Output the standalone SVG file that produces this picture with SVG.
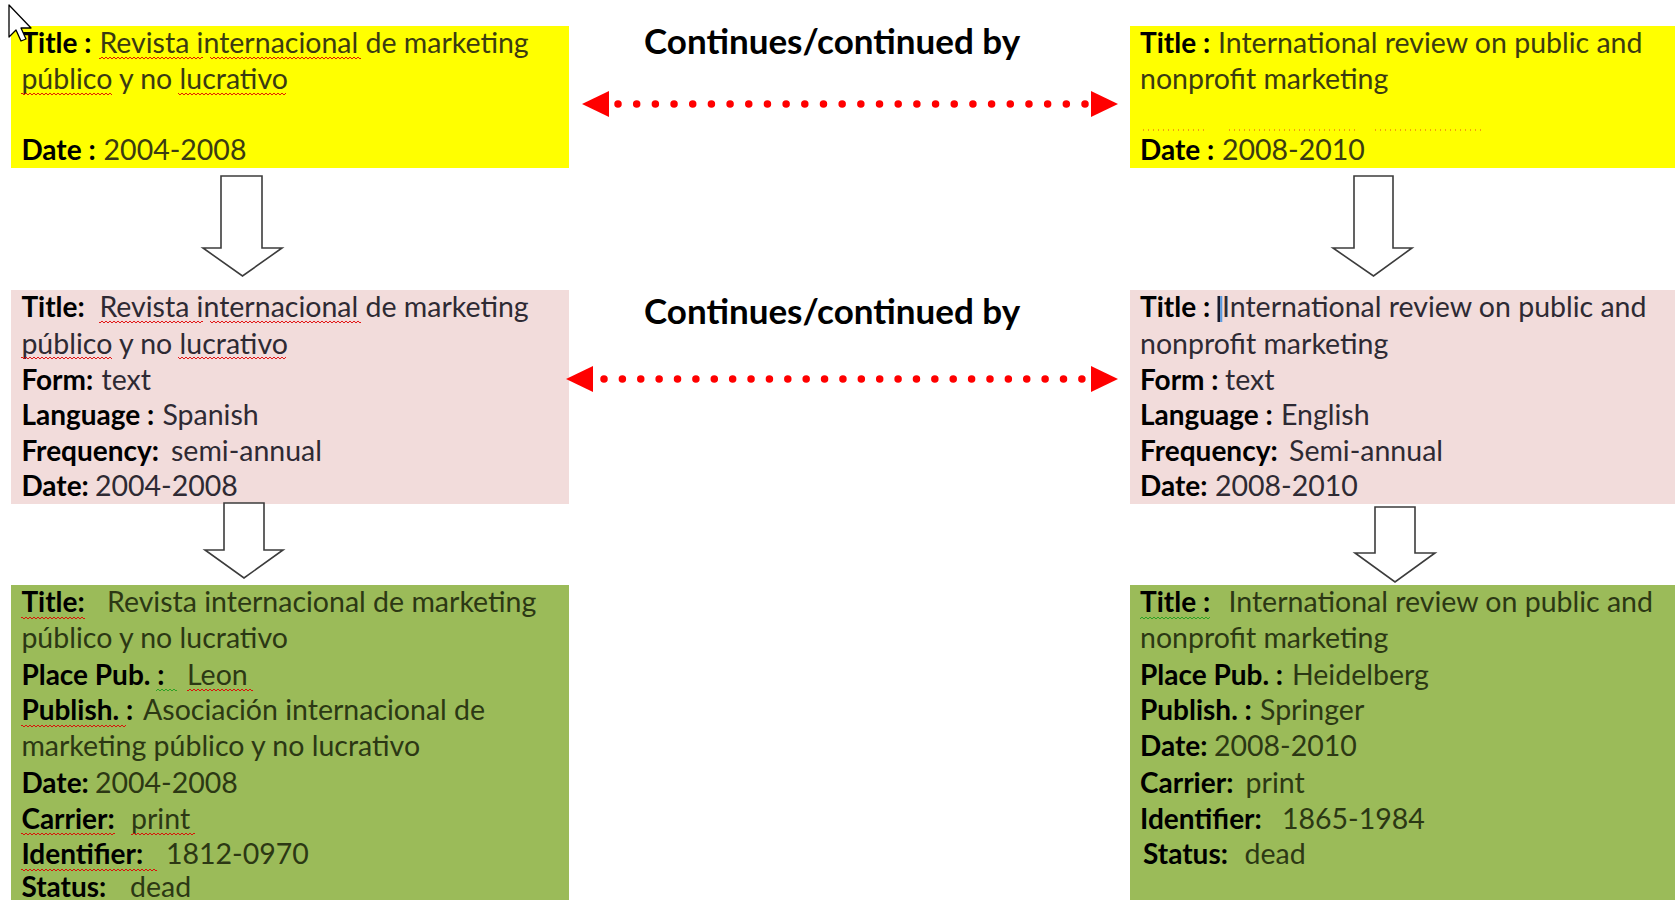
<svg xmlns="http://www.w3.org/2000/svg" width="1675" height="900" viewBox="0 0 1675 900">
<defs>
<style>
text{font-family:Lato,"Noto Sans","Liberation Sans",sans-serif;font-size:28.5px;fill:#111;}
.b{font-weight:bold;fill:#000;font-size:28px;}
.vy{fill:#3b3b12;}
.vp{fill:#2e2a33;}
.vg{fill:#2c3814;}
.head{font-size:35px;font-weight:bold;fill:#000;}
.yellow{fill:#FFFF00;}
.pink{fill:#F2DCDB;}
.green{fill:#9BBB59;}
.blk{fill:#fff;stroke:#3c3c3c;stroke-width:1.6;stroke-linejoin:miter;}
.dots{stroke:#FF0000;stroke-width:7.5;stroke-linecap:round;fill:none;}
.tri{fill:#FF0000;}
.sqr{fill:url(#sqr);}
.sqg{fill:url(#sqg);}
</style>
<pattern id="sqr" x="0" y="0" width="4" height="4" patternUnits="userSpaceOnUse">
<path d="M0 3 L2 1 L4 3" fill="none" stroke="#E00000" stroke-width="0.9"/>
</pattern>
<pattern id="sqg" x="0" y="0" width="4" height="4" patternUnits="userSpaceOnUse">
<path d="M0 3 L2 1 L4 3" fill="none" stroke="#1E9E1E" stroke-width="0.9"/>
</pattern>
</defs>
<rect width="1675" height="900" fill="#fff"/>

<g id="node-yellow-left">
<rect class="yellow" x="11" y="26" width="558" height="142"/>
<text y="53"><tspan class="b" x="21.4">Title :</tspan><tspan class="vy" x="99.4">Revista internacional de marketing</tspan></text>
<text class="vy" x="21.4" y="89">público y no lucrativo</text>
<text y="160"><tspan class="b" x="21.4">Date :</tspan><tspan class="vy" x="103.6">2004-2008</tspan></text>
<rect class="sqr" x="99" y="56" width="104" height="4"/>
<rect class="sqr" x="210" y="56" width="151" height="4"/>
<rect class="sqr" x="21" y="92" width="91" height="4"/>
<rect class="sqr" x="178" y="92" width="108" height="4"/>
</g>

<g id="node-yellow-right">
<rect class="yellow" x="1130" y="26" width="545" height="142"/>
<text y="53"><tspan class="b" x="1140">Title :</tspan><tspan class="vy" x="1218">International review on public and</tspan></text>
<text class="vy" x="1140" y="89">nonprofit marketing</text>
<line x1="1143" y1="130" x2="1205" y2="130" stroke="#E04020" stroke-width="1" stroke-dasharray="1 4"/>
<line x1="1229" y1="130" x2="1357" y2="130" stroke="#E04020" stroke-width="1" stroke-dasharray="1 4"/>
<line x1="1375" y1="130" x2="1483" y2="130" stroke="#E04020" stroke-width="1" stroke-dasharray="1 4"/>
<text y="160"><tspan class="b" x="1140">Date :</tspan><tspan class="vy" x="1222">2008-2010</tspan></text>
</g>

<g id="node-pink-left">
<rect class="pink" x="11" y="290" width="558" height="214"/>
<text y="317"><tspan class="b" x="21.4">Title:</tspan><tspan class="vp" x="99.4">Revista internacional de marketing</tspan></text>
<text class="vp" x="21.4" y="354">público y no lucrativo</text>
<text y="390"><tspan class="b" x="21.4">Form:</tspan><tspan class="vp" x="101.5">text</tspan></text>
<text y="425"><tspan class="b" x="21.4">Language :</tspan><tspan class="vp" x="162.4">Spanish</tspan></text>
<text y="461"><tspan class="b" x="21.4">Frequency:</tspan><tspan class="vp" x="171">semi-annual</tspan></text>
<text y="496"><tspan class="b" x="21.4">Date:</tspan><tspan class="vp" x="95">2004-2008</tspan></text>
<rect class="sqr" x="99" y="320" width="104" height="4"/>
<rect class="sqr" x="210" y="320" width="151" height="4"/>
<rect class="sqr" x="21" y="357" width="91" height="4"/>
<rect class="sqr" x="178" y="357" width="108" height="4"/>
</g>

<g id="node-pink-right">
<rect class="pink" x="1130" y="290" width="545" height="214"/>
<text y="317"><tspan class="b" x="1140">Title :</tspan><tspan class="vp" x="1222">International review on public and</tspan></text>
<rect x="1217.5" y="296" width="2.6" height="26" fill="#1a1a2a"/>
<rect x="1220.1" y="296" width="2.2" height="26" fill="#5B9BE0"/>
<text class="vp" x="1140" y="354">nonprofit marketing</text>
<text y="390"><tspan class="b" x="1140">Form :</tspan><tspan class="vp" x="1225">text</tspan></text>
<text y="425"><tspan class="b" x="1140">Language :</tspan><tspan class="vp" x="1281">English</tspan></text>
<text y="461"><tspan class="b" x="1140">Frequency:</tspan><tspan class="vp" x="1289">Semi-annual</tspan></text>
<text y="496"><tspan class="b" x="1140">Date:</tspan><tspan class="vp" x="1215">2008-2010</tspan></text>
</g>

<g id="node-green-left">
<rect class="green" x="11" y="585" width="558" height="315"/>
<text y="612"><tspan class="b" x="21.4">Title:</tspan><tspan class="vg" x="107">Revista internacional de marketing</tspan></text>
<text class="vg" x="21.4" y="648">público y no lucrativo</text>
<text y="685"><tspan class="b" x="21.4">Place Pub. :</tspan><tspan class="vg" x="187">Leon</tspan></text>
<text y="720"><tspan class="b" x="21.4">Publish. :</tspan><tspan class="vg" x="143">Asociación internacional de</tspan></text>
<text class="vg" x="21.4" y="756">marketing público y no lucrativo</text>
<text y="793"><tspan class="b" x="21.4">Date:</tspan><tspan class="vg" x="95">2004-2008</tspan></text>
<text y="829"><tspan class="b" x="21.4">Carrier:</tspan><tspan class="vg" x="131">print</tspan></text>
<text y="864"><tspan class="b" x="21.4">Identifier:</tspan><tspan class="vg" x="166">1812-0970</tspan></text>
<text y="897"><tspan class="b" x="21.4">Status:</tspan><tspan class="vg" x="130">dead</tspan></text>
<rect class="sqr" x="21" y="615" width="64" height="4"/>
<rect class="sqg" x="156" y="688" width="21" height="4"/>
<rect class="sqr" x="187" y="688" width="66" height="4"/>
<rect class="sqr" x="21" y="723" width="105" height="4"/>
<rect class="sqr" x="21" y="832" width="94" height="4"/>
<rect class="sqr" x="131" y="832" width="64" height="4"/>
<rect class="sqr" x="21" y="867" width="136" height="4"/>
</g>

<g id="node-green-right">
<rect class="green" x="1130" y="585" width="545" height="315"/>
<text y="612"><tspan class="b" x="1140">Title :</tspan><tspan class="vg" x="1228.5">International review on public and</tspan></text>
<text class="vg" x="1140" y="648">nonprofit marketing</text>
<text y="685"><tspan class="b" x="1140">Place Pub. :</tspan><tspan class="vg" x="1292">Heidelberg</tspan></text>
<text y="720"><tspan class="b" x="1140">Publish. :</tspan><tspan class="vg" x="1260">Springer</tspan></text>
<text y="756"><tspan class="b" x="1140">Date:</tspan><tspan class="vg" x="1214">2008-2010</tspan></text>
<text y="793"><tspan class="b" x="1140">Carrier:</tspan><tspan class="vg" x="1245.6">print</tspan></text>
<text y="829"><tspan class="b" x="1140">Identifier:</tspan><tspan class="vg" x="1282">1865-1984</tspan></text>
<text y="864"><tspan class="b" x="1143">Status:</tspan><tspan class="vg" x="1244.6">dead</tspan></text>
<rect class="sqg" x="1140" y="615" width="70" height="4"/>
</g>

<g id="labels">
<text class="head" x="644" y="54">Continues/continued by</text>
<text class="head" x="644" y="324">Continues/continued by</text>
</g>

<g id="connectors">
<path class="blk" d="M221 176 H262 V248 H282 L242.5 276 L203 248 H221 Z"/>
<path class="blk" d="M1354 176 H1393 V248 H1412 L1373.5 276 L1333 248 H1354 Z"/>
<path class="blk" d="M224 503 H264 V550 H283 L244 578 L205 550 H224 Z"/>
<path class="blk" d="M1375 507 H1415 V553 H1435 L1395 582 L1355 553 H1375 Z"/>
<line class="dots" x1="618" y1="104" x2="1085.5" y2="104" stroke-dasharray="0 18.68"/>
<polygon class="tri" points="582,104 609,91 609,117"/>
<polygon class="tri" points="1118,104 1091,91 1091,117"/>
<line class="dots" x1="604" y1="379" x2="1082.5" y2="379" stroke-dasharray="0 18.38"/>
<polygon class="tri" points="566,379 593,366 593,392"/>
<polygon class="tri" points="1118,379 1091,366 1091,392"/>
</g>

<g id="cursor">
<polygon points="9,5 9,37 16,30 21,41 26,39 21,28 31,28" fill="#fff" stroke="#000" stroke-width="1.3" stroke-linejoin="round"/>
</g>
</svg>
